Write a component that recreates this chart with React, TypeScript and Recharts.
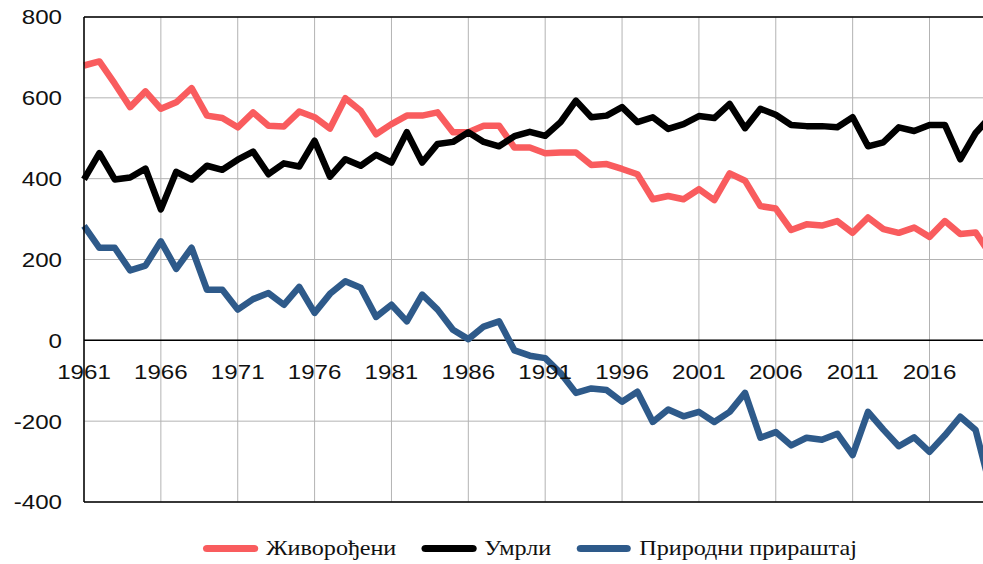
import {
  LineChart,
  Line,
  XAxis,
  YAxis,
  CartesianGrid,
  Legend,
  ReferenceLine,
} from 'recharts';

const years = [
  1961, 1962, 1963, 1964, 1965, 1966, 1967, 1968, 1969, 1970,
  1971, 1972, 1973, 1974, 1975, 1976, 1977, 1978, 1979, 1980,
  1981, 1982, 1983, 1984, 1985, 1986, 1987, 1988, 1989, 1990,
  1991, 1992, 1993, 1994, 1995, 1996, 1997, 1998, 1999, 2000,
  2001, 2002, 2003, 2004, 2005, 2006, 2007, 2008, 2009, 2010,
  2011, 2012, 2013, 2014, 2015, 2016, 2017, 2018, 2019, 2020,
];

const births = [
  680, 690, 635, 577, 616, 573, 589, 624, 556, 550,
  527, 564, 531, 529, 566, 552, 524, 599, 568, 510,
  535, 556, 556, 564, 515, 515, 531, 531, 477, 477,
  463, 465, 465, 434, 436, 424, 411, 349, 357, 349,
  374, 347, 413, 395, 332, 326, 273, 287, 284, 295,
  266, 304, 275, 266, 279, 256, 295, 263, 267, 210,
];

const deaths = [
  398, 463, 398, 403, 425, 324, 417, 398, 432, 422,
  447, 467, 411, 438, 430, 494, 405, 448, 432, 459,
  440, 515, 440, 486, 491, 515, 491, 480, 505, 516,
  506, 540, 593, 552, 556, 577, 540, 552, 523, 535,
  555, 550, 585, 525, 573, 558, 533, 530, 530, 527,
  552, 480, 490, 527, 518, 533, 533, 448, 513, 555,
];

const naturalIncrease = [
  283, 229, 229, 173, 185, 245, 177, 229, 125, 125,
  76, 102, 117, 88, 132, 68, 115, 146, 130, 58,
  88, 47, 113, 76, 26, 3, 34, 47, -25, -38,
  -44, -81, -130, -119, -123, -152, -127, -202, -171, -188,
  -177, -202, -177, -130, -241, -227, -260, -241, -246, -231,
  -284, -177, -221, -262, -240, -276, -235, -189, -222, -370,
];

const xTicks = [1961, 1966, 1971, 1976, 1981, 1986, 1991, 1996, 2001, 2006, 2011, 2016];
const yTicks = [-400, -200, 0, 200, 400, 600, 800];

const series = [
  { key: 'births', name: 'Живорођени', color: '#F95C5E' },
  { key: 'deaths', name: 'Умрли', color: '#000000' },
  { key: 'natural', name: 'Природни прираштај', color: '#2E5A8A' },
];

const data = years.map((year, i) => ({
  year,
  births: births[i],
  deaths: deaths[i],
  natural: naturalIncrease[i],
}));

const WIDTH = 1000;
const HEIGHT = 564;
const MARGIN = { top: 17, right: 9, bottom: 60, left: 0 };
const X_AXIS_HEIGHT = 2;
const Y_MIN = -400;
const Y_MAX = 800;
const PLOT_HEIGHT = HEIGHT - MARGIN.top - MARGIN.bottom - X_AXIS_HEIGHT;
const ZERO_Y = MARGIN.top + ((Y_MAX - 0) / (Y_MAX - Y_MIN)) * PLOT_HEIGHT;

// the source picture is a bit stretched sideways, so text gets widened too
const STRETCH = 1.15;

const sansFont = '"Liberation Sans", Arial, sans-serif';
const serifFont = '"Liberation Serif", "Times New Roman", serif';

function stretchAt(x: number) {
  return `translate(${x},0) scale(${STRETCH},1) translate(${-x},0)`;
}

// year labels sit under the zero line, not at the bottom of the plot
function YearTick(props: any) {
  const { x, payload } = props;
  return (
    <text
      x={x}
      y={ZERO_Y + 38.5}
      textAnchor="middle"
      fontSize={21}
      fontFamily={sansFont}
      fill="#111"
      transform={stretchAt(x)}
    >
      {payload.value}
    </text>
  );
}

function ValueTick(props: any) {
  const { x, y, payload } = props;
  return (
    <text
      x={x}
      y={y}
      dy="0.355em"
      textAnchor="end"
      fontSize={21}
      fontFamily={sansFont}
      fill="#111"
      transform={stretchAt(x)}
    >
      {payload.value}
    </text>
  );
}

function ChartLegend() {
  return (
    <div
      style={{
        display: 'flex',
        alignItems: 'center',
        fontFamily: serifFont,
        fontSize: 21,
        color: '#111',
        transform: `scaleX(${STRETCH})`,
        transformOrigin: 'left center',
        whiteSpace: 'nowrap',
      }}
    >
      {series.map((s) => (
        <div key={s.key} style={{ display: 'flex', alignItems: 'center', marginRight: 25 / STRETCH }}>
          <span
            style={{
              display: 'inline-block',
              width: 55 / STRETCH,
              height: 7,
              borderRadius: 4,
              background: s.color,
              marginRight: 8 / STRETCH,
            }}
          />
          <span>{s.name}</span>
        </div>
      ))}
    </div>
  );
}

export default function App() {
  return (
    <div
      style={{
        position: 'fixed',
        left: 0,
        top: 0,
        width: 983,
        height: 564,
        overflow: 'hidden',
        background: '#fff',
      }}
    >
      <LineChart width={WIDTH} height={HEIGHT} data={data} margin={MARGIN}>
        <CartesianGrid stroke="#b3b3b3" strokeWidth={1} />
        <XAxis
          dataKey="year"
          type="number"
          domain={[1961, 2020]}
          ticks={xTicks}
          height={X_AXIS_HEIGHT}
          axisLine={false}
          tickLine={false}
          interval={0}
          tick={(props: any) => <YearTick {...props} />}
        />
        <YAxis
          domain={[Y_MIN, Y_MAX]}
          ticks={yTicks}
          width={84}
          tickSize={0}
          tickMargin={22}
          axisLine={{ stroke: '#000', strokeWidth: 1.5 }}
          tickLine={false}
          tick={(props: any) => <ValueTick {...props} />}
        />
        <ReferenceLine y={0} stroke="#000" strokeWidth={1.5} />
        <ReferenceLine y={Y_MAX} stroke="#000" strokeWidth={1.5} />
        <ReferenceLine y={Y_MIN} stroke="#000" strokeWidth={1.5} />
        <Legend
          layout="horizontal"
          verticalAlign="middle"
          align="center"
          content={() => <ChartLegend />}
          wrapperStyle={{ left: 203, top: 536, width: 780 }}
        />
        {series.map((s) => (
          <Line
            key={s.key}
            dataKey={s.key}
            name={s.name}
            stroke={s.color}
            strokeWidth={6.5}
            strokeLinejoin="round"
            dot={false}
            type="linear"
            isAnimationActive={false}
          />
        ))}
      </LineChart>
    </div>
  );
}
